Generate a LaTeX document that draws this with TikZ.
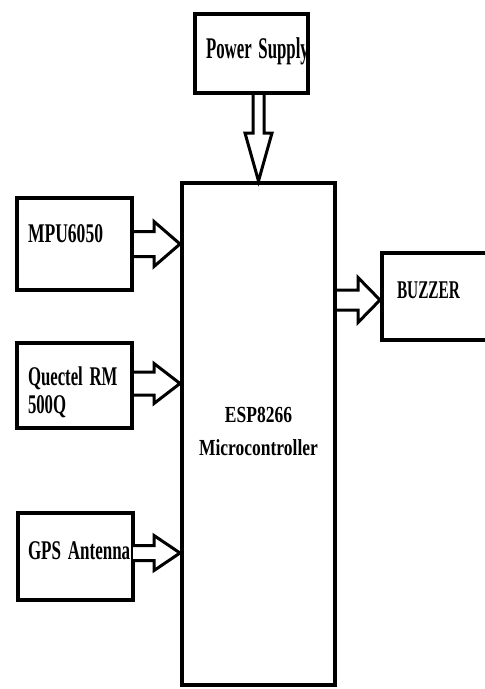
\documentclass[tikz,border=0pt]{standalone}
\usepackage{fontspec}
\setmainfont{Liberation Serif}
\usetikzlibrary{calc}
\newcommand\sqz[2]{\scalebox{#1}[1]{#2}}
\newcommand\lift[2]{\raisebox{#1}[\height][\depth]{#2}}
\newcommand\gap{\hspace{0.4em}}
% horizontal hollow arrow: #1 start, #2 end (x of tip), #3 shaft half, #4 head half, #5 head length
\newcommand\harrow[5]{%
  \draw[fatarrow] let \p1=(#1), \p2=(#2) in
    (\x1,\y1+#3pt) -- (\x2-#5pt,\y1+#3pt) -- (\x2-#5pt,\y1+#4pt) -- (\x2,\y1)
    -- (\x2-#5pt,\y1-#4pt) -- (\x2-#5pt,\y1-#3pt) -- (\x1,\y1-#3pt);}
\begin{document}
\begin{tikzpicture}[x=1pt,y=-1pt,
  box/.style={draw=black, line width=4pt, inner ysep=0pt, fill=white},
  fatarrow/.style={draw=black, line width=3pt, line join=miter, fill=white}]
\useasboundingbox (0,0) rectangle (485,689);
\clip (0,0) rectangle (485,689);
% boxes
\node[box, inner xsep=11pt, text width=91pt, align=center, minimum height=79pt] (power) at (251.5,53.5)
  {\lift{2pt}{\sqz{0.56}{\fontsize{30}{32}\selectfont\bfseries Power\gap Supply}}};
\node[box, inner xsep=11pt, text width=131pt, align=center, minimum height=502pt] (esp) at (258.5,434)
  {\lift{2pt}{\sqz{0.76}{\fontsize{23}{33}\selectfont\bfseries\begin{tabular}{@{}c@{}}ESP8266\\Microcontroller\end{tabular}}}};
\node[box, inner xsep=11pt, text width=93pt, align=left, minimum height=92pt] (mpu) at (74.5,244)
  {\lift{10pt}{\sqz{0.65}{\fontsize{27}{28}\selectfont\bfseries MPU6050}}};
\node[box, inner xsep=11pt, text width=93pt, align=left, minimum height=85pt] (quectel) at (74.5,385.5)
  {\lift{-8pt}{\sqz{0.62}{\fontsize{27}{28}\selectfont\bfseries\begin{tabular}{@{}l@{}}Quectel\gap RM\\500Q\end{tabular}}}};
\node[box, inner xsep=10pt, text width=95pt, align=left, minimum height=87pt] (gps) at (75.5,556.5)
  {\lift{5.5pt}{\sqz{0.63}{\fontsize{27}{28}\selectfont\bfseries GPS\gap Antenna}}};
\node[box, inner xsep=15pt, text width=88pt, align=left, minimum height=87pt] (buzzer) at (441,296.5)
  {\lift{6.5pt}{\sqz{0.6}{\fontsize{25.5}{27}\selectfont\bfseries BUZZER}}};
% connectors
\coordinate (mpuS) at ($(mpu.east)+(0,0)$);
\coordinate (queS) at ($(quectel.east)+(0,-2)$);
\coordinate (gpsS) at ($(gps.east)+(-2,-3.5)$);
\coordinate (bzS) at ($(esp.east |- buzzer.west)+(0,3.5)$);
\harrow{mpuS}{esp.west}{12.5}{22.5}{26}
\harrow{queS}{esp.west}{11.5}{20}{26}
\harrow{gpsS}{esp.west}{7.5}{17.5}{26}
\harrow{bzS}{buzzer.west}{10}{22.5}{22}
\coordinate (pwS) at (esp.north |- power.south);
\draw[fatarrow] let \p1=(pwS), \p2=(esp.north) in
  (\x1-5.5pt,\y1) -- (\x1-5.5pt,\y2+48pt) -- (\x1-13.5pt,\y2+48pt) -- (\x1,\y2)
  -- (\x1+13.5pt,\y2+48pt) -- (\x1+5.5pt,\y2+48pt) -- (\x1+5.5pt,\y1);
\end{tikzpicture}
\end{document}
